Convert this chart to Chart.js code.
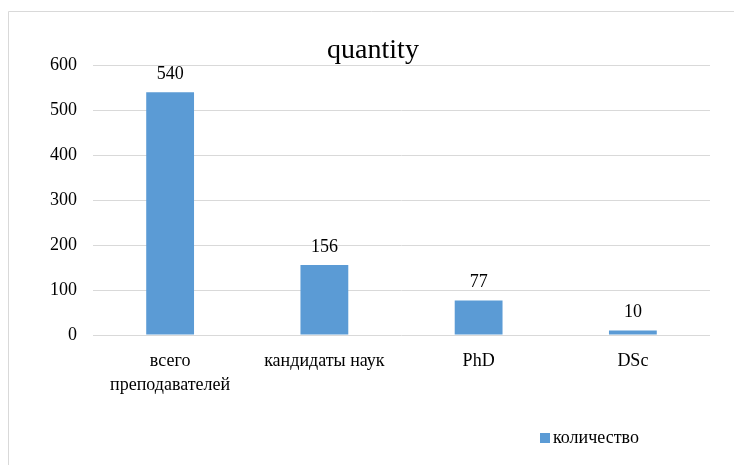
<!DOCTYPE html>
<html>
<head>
<meta charset="utf-8">
<script src="https://cdn.jsdelivr.net/npm/chart.js@4"></script>
<style>
  html, body { margin: 0; padding: 0; background: #fff; }
  #wrap { position: relative; width: 734px; height: 465px; }
  #legend {
    position: absolute; left: 540px; top: 427px;
    font-family: "Liberation Serif", serif; font-size: 18px; color: #000;
    display: flex; align-items: center;
  }
  #legend .box { width: 10px; height: 10px; background: #5B9BD5; margin-right: 3px; }
</style>
</head>
<body>
<div id="wrap">
  <canvas id="qtyChart" width="734" height="465"></canvas>
  <div id="legend"></div>
</div>
<script>
const categories = [["всего", "преподавателей"], "кандидаты наук", "PhD", "DSc"];
const quantities = [540, 156, 77, 10];
const seriesName = "количество";
const yTicks = [0, 100, 200, 300, 400, 500, 600];

const FONT = "'Liberation Serif', 'Times New Roman', serif";
const BAR_COLOR = "#5B9BD5";
const GRID_COLOR = "#d9d9d9";

// frame round the chart (only top and left edges show in the picture)
const framePlugin = {
  id: "frame",
  beforeDraw(chart) {
    const ctx = chart.ctx;
    ctx.save();
    ctx.fillStyle = "#fff";
    ctx.fillRect(0, 0, chart.width, chart.height);
    ctx.strokeStyle = GRID_COLOR;
    ctx.lineWidth = 1;
    ctx.beginPath();
    ctx.moveTo(8.5, chart.height);
    ctx.lineTo(8.5, 11.5);
    ctx.lineTo(chart.width, 11.5);
    ctx.stroke();
    ctx.restore();
  },
};

// value labels above each bar
const valueLabels = {
  id: "valueLabels",
  afterDatasetsDraw(chart) {
    const ctx = chart.ctx;
    const meta = chart.getDatasetMeta(0);
    ctx.save();
    ctx.font = "18px " + FONT;
    ctx.fillStyle = "#000";
    ctx.textAlign = "center";
    ctx.textBaseline = "bottom";
    meta.data.forEach((bar, i) => {
      ctx.fillText(String(chart.data.datasets[0].data[i]), bar.x, bar.y - 9);
    });
    ctx.restore();
  },
};

const chart = new Chart(document.getElementById("qtyChart"), {
  type: "bar",
  data: {
    labels: categories,
    datasets: [
      {
        label: seriesName,
        data: quantities,
        backgroundColor: BAR_COLOR,
        borderWidth: 0,
        categoryPercentage: 1,
        barPercentage: 0.31,
      },
    ],
  },
  options: {
    responsive: false,
    animation: false,
    devicePixelRatio: 1,
    layout: { padding: { top: 11, left: 36, right: 24, bottom: 70 } },
    plugins: {
      legend: { display: false },
      tooltip: { enabled: false },
      title: {
        display: true,
        text: "quantity",
        color: "#000",
        font: { family: FONT, size: 28, weight: "normal", lineHeight: 1.05 },
        padding: { top: 25, bottom: 0 },
      },
    },
    scales: {
      x: {
        grid: { display: false, drawTicks: false },
        border: { display: false },
        ticks: {
          color: "#000",
          font: { family: FONT, size: 18, lineHeight: 1.3 },
          padding: 15,
          maxRotation: 0,
          autoSkip: false,
        },
        afterFit(scale) { scale.height = 60; },
      },
      y: {
        min: 0,
        max: 600,
        afterBuildTicks(scale) { scale.ticks = yTicks.map((v) => ({ value: v })); },
        grid: { color: GRID_COLOR, lineWidth: 1, drawTicks: false },
        border: { display: false },
        ticks: {
          color: "#000",
          font: { family: FONT, size: 18 },
          padding: 16,
        },
        afterFit(scale) { scale.width = 57; },
      },
    },
  },
  plugins: [framePlugin, valueLabels],
});

// legend as html, from the dataset
const legendEl = document.getElementById("legend");
chart.data.datasets.forEach((ds) => {
  legendEl.innerHTML += `<span class="box"></span><span>${ds.label}</span>`;
});
</script>
</body>
</html>
